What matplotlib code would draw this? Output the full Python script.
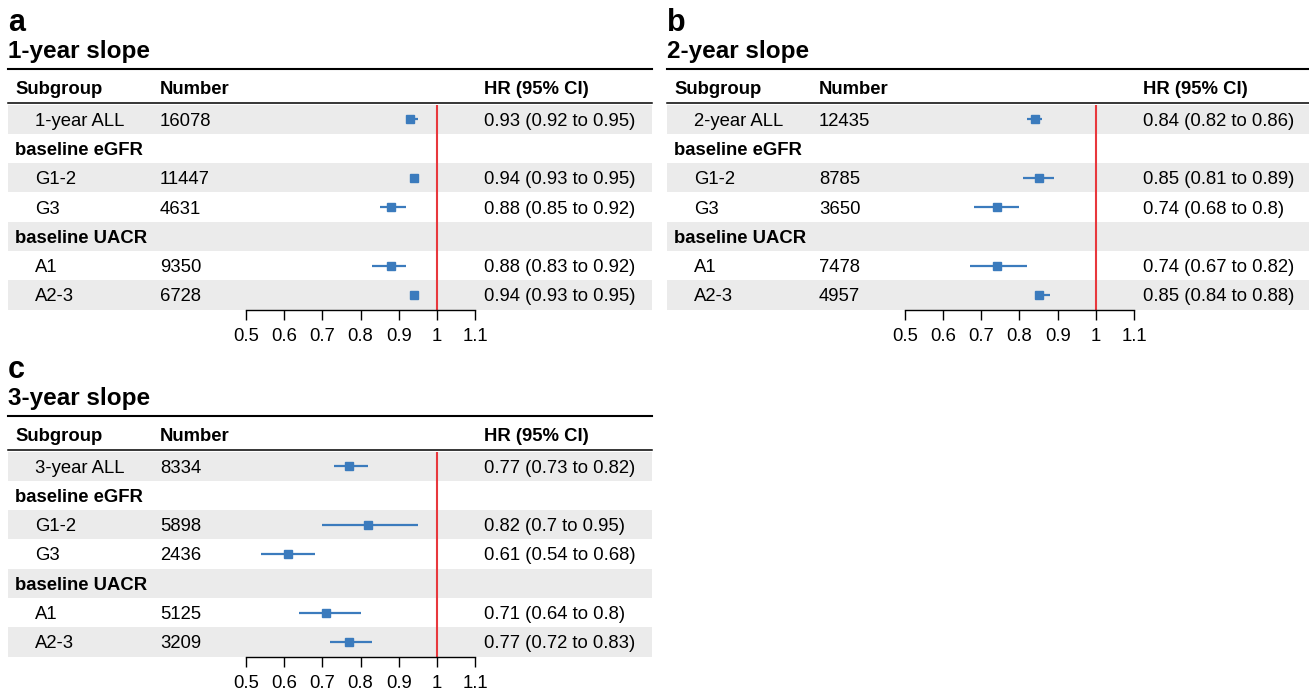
import matplotlib
matplotlib.use('Agg')
import matplotlib.pyplot as plt
import matplotlib.transforms as mtransforms
from matplotlib.lines import Line2D

plt.rcParams['font.family'] = ['Liberation Sans', 'DejaVu Sans']

W, H = 1309, 693

letters = ['a', 'b', 'c']
titles = ['1-year slope', '2-year slope', '3-year slope']
all_labels = ['1-year ALL', '2-year ALL', '3-year ALL']
group_labels = ['baseline eGFR', 'baseline UACR']
sub_labels = ['G1-2', 'G3', 'A1', 'A2-3']

# number, HR, lower, upper  (ALL, G1-2, G3, A1, A2-3)
n_1yr = [16078, 11447, 4631, 9350, 6728]
hr_1yr = [0.93, 0.94, 0.88, 0.88, 0.94]
lo_1yr = [0.92, 0.93, 0.85, 0.83, 0.93]
hi_1yr = [0.95, 0.95, 0.92, 0.92, 0.95]

n_2yr = [12435, 8785, 3650, 7478, 4957]
hr_2yr = [0.84, 0.85, 0.74, 0.74, 0.85]
lo_2yr = [0.82, 0.81, 0.68, 0.67, 0.84]
hi_2yr = [0.86, 0.89, 0.80, 0.82, 0.88]

n_3yr = [8334, 5898, 2436, 5125, 3209]
hr_3yr = [0.77, 0.82, 0.61, 0.71, 0.77]
lo_3yr = [0.73, 0.70, 0.54, 0.64, 0.72]
hi_3yr = [0.82, 0.95, 0.68, 0.80, 0.83]

ticks = [0.5, 0.6, 0.7, 0.8, 0.9, 1.0, 1.1]
tick_labels = ['0.5', '0.6', '0.7', '0.8', '0.9', '1', '1.1']

FS = 13.3
BAND = '#ebebeb'
BLUE = '#3b7bbd'
RED = '#e8383d'


def fx(p):
    return p / W


def fy(p):
    return 1 - p / H


def hline(fig, x0, x1, y, lw):
    fig.add_artist(Line2D([fx(x0), fx(x1)], [fy(y), fy(y)], color='black', lw=lw))


def draw_panel(fig, dx, dy, right, letter, title, all_label, n, hr, lo, hi):
    left = 8 + dx
    fig.text(fx(left), fy(31 + dy), letter, fontsize=22, fontweight='bold', va='baseline')
    fig.text(fx(left), fy(58 + dy), title, fontsize=17.5, fontweight='bold', va='baseline')
    hline(fig, left, right, 69 + dy, 1.5)
    fig.text(fx(15 + dx), fy(94 + dy), 'Subgroup', fontsize=FS, fontweight='bold', va='baseline')
    fig.text(fx(160 + dx), fy(94 + dy), 'Number', fontsize=FS, fontweight='bold', va='baseline')
    fig.text(fx(484 + dx), fy(94 + dy), 'HR (95% CI)', fontsize=FS, fontweight='bold', va='baseline')
    hline(fig, left, right, 103 + dy, 1.1)

    top, bot = 104.5 + dy, 309.5 + dy
    bg = fig.add_axes([fx(left), fy(bot), (right - left) / W, (bot - top) / H])
    bg.set_xlim(0, 1)
    bg.set_ylim(6.5, -0.5)
    bg.axis('off')
    for r in [0, 2, 4, 6]:
        bg.axhspan(r - 0.5, r + 0.5, color=BAND, lw=0)

    rows = [all_label, group_labels[0], sub_labels[0], sub_labels[1],
            group_labels[1], sub_labels[2], sub_labels[3]]
    data_rows = [0, 2, 3, 5, 6]
    tr = mtransforms.blended_transform_factory(fig.transFigure, bg.transData) + \
        mtransforms.ScaledTranslation(0, -0.065, fig.dpi_scale_trans)
    for r, lab in enumerate(rows):
        if r in data_rows:
            bg.text(fx(35 + dx), r, lab, fontsize=FS, va='baseline', transform=tr)
        else:
            bg.text(fx(15 + dx), r, lab, fontsize=FS, fontweight='bold', va='baseline', transform=tr)
    for i, r in enumerate(data_rows):
        bg.text(fx(160 + dx), r, str(n[i]), fontsize=FS, va='baseline', transform=tr)
        bg.text(fx(484 + dx), r, f'{hr[i]:g} ({lo[i]:g} to {hi[i]:g})',
                fontsize=FS, va='baseline', transform=tr)

    ax = fig.add_axes([fx(246 + dx), fy(bot), 229 / W, (bot - top) / H])
    ax.patch.set_alpha(0)
    ax.set_xlim(0.5, 1.1)
    ax.set_ylim(6.5, -0.5)
    for s in ['top', 'left', 'right']:
        ax.spines[s].set_visible(False)
    ax.spines['bottom'].set_linewidth(1.0)
    ax.set_yticks([])
    ax.set_xticks(ticks, tick_labels)
    ax.tick_params(axis='x', length=7, width=1.0, pad=6.5, labelsize=FS)
    ax.axvline(1, color=RED, lw=1.5, zorder=1)
    ax.hlines(data_rows, lo, hi, color=BLUE, lw=1.6, zorder=2)
    ax.plot(hr, data_rows, 's', ms=6, color=BLUE, zorder=3)


fig = plt.figure(figsize=(W / 100, H / 100), dpi=100)
draw_panel(fig, 0, 0, 652, letters[0], titles[0], all_labels[0], n_1yr, hr_1yr, lo_1yr, hi_1yr)
draw_panel(fig, 659, 0, 1309, letters[1], titles[1], all_labels[1], n_2yr, hr_2yr, lo_2yr, hi_2yr)
draw_panel(fig, 0, 347, 652, letters[2], titles[2], all_labels[2], n_3yr, hr_3yr, lo_3yr, hi_3yr)
fig.savefig('out.png', dpi=100)
